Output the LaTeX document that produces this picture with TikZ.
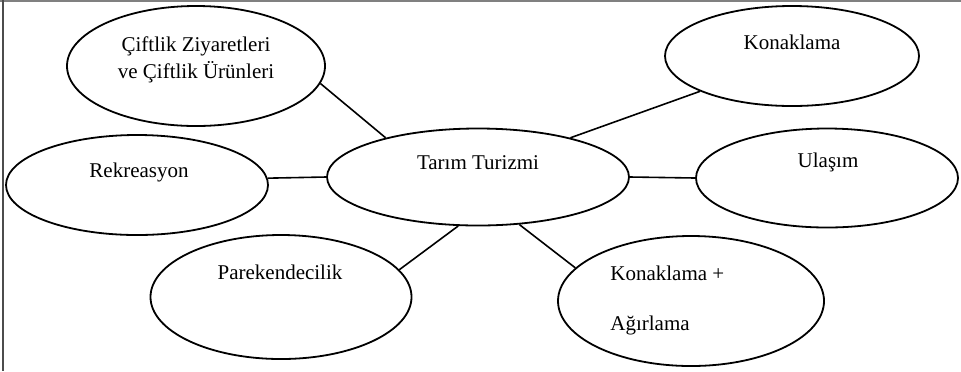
\documentclass[tikz,border=0pt]{standalone}
\usepackage{fontspec}
\setmainfont{Liberation Serif}
\usetikzlibrary{shapes.geometric}

\begin{document}
\begin{tikzpicture}[x=0.5pt, y=-0.5pt,
  bubble/.style={ellipse, draw, line width=0.9pt, inner sep=0pt},
  txt/.style={font=\fontsize{10.5}{13.5}\selectfont, inner sep=0pt, align=center},
  link/.style={line width=0.8pt}]
  \useasboundingbox (0,0) rectangle (961,371);
  % page frame
  \draw[gray, line width=0.6pt] (0,1) -- (961,1);
  \draw[black!70, line width=0.6pt] (3,0) -- (3,371);

  \node[bubble, minimum width=129pt, minimum height=60pt] (ciftlik) at (196,66) {};
  \node[bubble, minimum width=131pt, minimum height=50pt] (rekre) at (137,185) {};
  \node[bubble, minimum width=151pt, minimum height=48.5pt] (tarim) at (478,177) {};
  \node[bubble, minimum width=127pt, minimum height=50pt] (konak) at (792,56) {};
  \node[bubble, minimum width=131pt, minimum height=49.5pt] (ulasim) at (827,178) {};
  \node[bubble, minimum width=130.5pt, minimum height=62pt] (parek) at (281,297) {};
  \node[bubble, minimum width=133pt, minimum height=65pt] (konag) at (691,301) {};

  \node[txt] (ciftlikT) at (196,60) {Çiftlik Ziyaretleri\\ve Çiftlik Ürünleri};
  \node[txt] (rekreT) at (139,172) {Rekreasyon};
  \node[txt] (tarimT) at (478,163) {Tarım Turizmi};
  \node[txt] (konakT) at (792,42) {Konaklama};
  \node[txt] (ulasimT) at (828,162) {Ulaşım};
  \node[txt] (parekT) at (280,272) {Parekendecilik};
  \node[txt, align=left, anchor=west] (konagT) at (610,300) {Konaklama +\\[11.5pt]Ağırlama};

  \draw[link] (ciftlik.-8) -- (tarim.157);
  \draw[link] (konak.-159) -- (tarim.23);
  \draw[link] (rekre.3) -- (tarim.west);
  \draw[link] (tarim.east) -- (ulasim.west);
  \draw[link] (parek.13) -- (tarim.-112);
  \draw[link] (tarim.-49) -- (konag.164);
\end{tikzpicture}
\end{document}
